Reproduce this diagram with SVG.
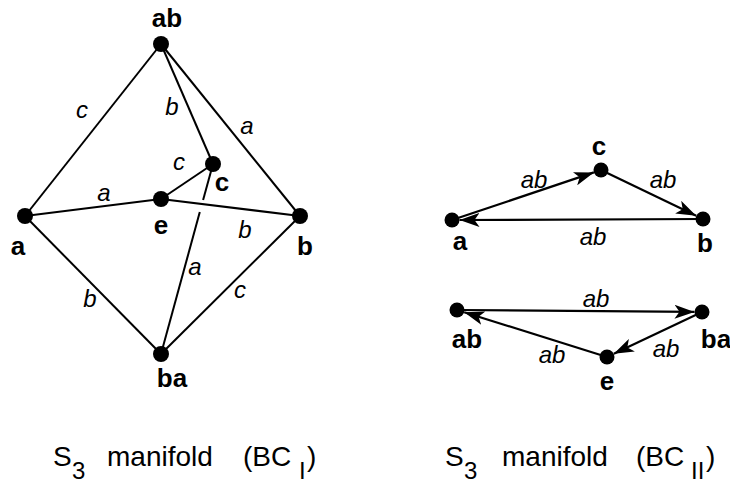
<svg xmlns="http://www.w3.org/2000/svg" width="730" height="485" viewBox="0 0 730 485">
<style>
  .edge { stroke: #000; stroke-width: 2; fill: none; }
  .arr { stroke: #000; stroke-width: 2.2; fill: none; marker-end: url(#ah); }
  .node { fill: #000; }
  .nl { font-family: "Liberation Sans", Arial, sans-serif; font-weight: bold; font-size: 26px; text-anchor: middle; fill: #000; }
  .el { font-family: "Liberation Sans", Arial, sans-serif; font-style: italic; font-size: 24px; text-anchor: middle; fill: #000; }
  .cap { font-family: "Liberation Sans", Arial, sans-serif; font-size: 28px; fill: #000; }
  .sub { font-family: "Liberation Sans", Arial, sans-serif; font-size: 24px; fill: #000; }
</style>
<defs>
  <marker id="ah" markerUnits="userSpaceOnUse" markerWidth="20" markerHeight="14" refX="20" refY="7" orient="auto">
    <path d="M0,0 L20,7 L0,14 L5,7 z" fill="#000"/>
  </marker>
</defs>
<rect width="730" height="485" fill="#fff"/>

<g id="connectors">
  <line class="edge" x1="161" y1="44" x2="25" y2="216"/>
  <line class="edge" x1="161" y1="44" x2="300" y2="216"/>
  <line class="edge" x1="161" y1="44" x2="213" y2="164"/>
  <line class="edge" x1="25" y1="216" x2="161" y2="199"/>
  <line class="edge" x1="161" y1="199" x2="213" y2="164"/>
  <line class="edge" x1="161" y1="199" x2="300" y2="216"/>
  <line class="edge" x1="25" y1="216" x2="161" y2="354"/>
  <line class="edge" x1="300" y1="216" x2="161" y2="354"/>
  <line class="edge" x1="213" y1="164" x2="203.1" y2="200"/>
  <line class="edge" x1="199.8" y1="212" x2="161" y2="354"/>

  <line class="arr" x1="452" y1="220" x2="593.9" y2="172.4"/>
  <line class="arr" x1="601" y1="170" x2="696.2" y2="215.8"/>
  <line class="arr" x1="703" y1="219" x2="459.5" y2="220"/>

  <line class="arr" x1="457" y1="310" x2="694.5" y2="311.9"/>
  <line class="arr" x1="702" y1="312" x2="613.8" y2="353.8"/>
  <line class="arr" x1="607" y1="357" x2="464.2" y2="312.2"/>
</g>

<g id="edge-labels">
  <text class="el" x="82" y="118">c</text>
  <text class="el" x="172" y="115">b</text>
  <text class="el" x="247" y="134">a</text>
  <text class="el" x="179" y="170">c</text>
  <text class="el" x="104" y="201">a</text>
  <text class="el" x="245" y="238">b</text>
  <text class="el" x="90" y="307">b</text>
  <text class="el" x="195" y="275">a</text>
  <text class="el" x="240" y="298">c</text>

  <text class="el" x="534" y="188">ab</text>
  <text class="el" x="663" y="188">ab</text>
  <text class="el" x="593" y="245">ab</text>
  <text class="el" x="596" y="307">ab</text>
  <text class="el" x="552" y="363">ab</text>
  <text class="el" x="666" y="357">ab</text>
</g>

<g id="node-ab"><circle class="node" cx="161" cy="44" r="8"/><text class="nl" x="167" y="27">ab</text></g>
<g id="node-a"><circle class="node" cx="25" cy="216" r="8"/><text class="nl" x="18" y="255">a</text></g>
<g id="node-e"><circle class="node" cx="161" cy="199" r="8"/><text class="nl" x="161" y="234">e</text></g>
<g id="node-c"><circle class="node" cx="213" cy="164" r="8"/><text class="nl" x="222" y="191">c</text></g>
<g id="node-b"><circle class="node" cx="300" cy="216" r="8"/><text class="nl" x="305" y="255">b</text></g>
<g id="node-ba"><circle class="node" cx="161" cy="354" r="8"/><text class="nl" x="172" y="387">ba</text></g>

<g id="node-r-c"><circle class="node" cx="601" cy="170" r="7.5"/><text class="nl" x="599" y="155">c</text></g>
<g id="node-r-a"><circle class="node" cx="452" cy="220" r="7.5"/><text class="nl" x="460" y="250">a</text></g>
<g id="node-r-b"><circle class="node" cx="703" cy="219" r="7.5"/><text class="nl" x="705" y="252">b</text></g>
<g id="node-r-ab"><circle class="node" cx="457" cy="310" r="7.5"/><text class="nl" x="467" y="348">ab</text></g>
<g id="node-r-ba"><circle class="node" cx="702" cy="312" r="7.5"/><text class="nl" x="716" y="348">ba</text></g>
<g id="node-r-e"><circle class="node" cx="607" cy="357" r="7.5"/><text class="nl" x="607" y="390">e</text></g>

<g id="caption-left">
  <text class="cap" x="53" y="466">S</text>
  <text class="sub" x="72" y="479">3</text>
  <text class="cap" x="107" y="466">manifold</text>
  <text class="cap" x="243" y="466">(BC</text>
  <text class="sub" x="299" y="479">I</text>
  <text class="cap" x="307" y="466">)</text>
</g>
<g id="caption-right">
  <text class="cap" x="445" y="466">S</text>
  <text class="sub" x="464" y="479">3</text>
  <text class="cap" x="502" y="466">manifold</text>
  <text class="cap" x="636" y="466">(BC</text>
  <text class="sub" x="691" y="479">II</text>
  <text class="cap" x="706" y="466">)</text>
</g>
</svg>
